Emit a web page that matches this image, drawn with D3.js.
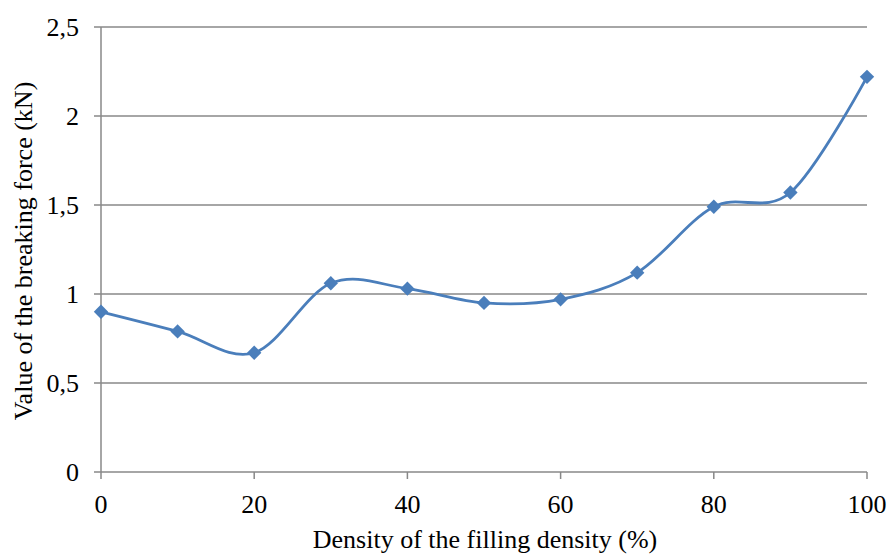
<!DOCTYPE html>
<html><head><meta charset="utf-8">
<script src="https://cdn.jsdelivr.net/npm/d3@7"></script>
<style>body{margin:0;background:#fff}svg{display:block}</style>
</head><body>
<svg id="c" width="889" height="556"></svg>
<script>
const xValues = [0,10,20,30,40,50,60,70,80,90,100];
const forceValues = [0.90,0.79,0.67,1.06,1.03,0.95,0.97,1.12,1.49,1.57,2.22];
const xTicks = [0,20,40,60,80,100];
const yTicks = [0,0.5,1,1.5,2,2.5];
const xTitle = "Density of the filling density (%)";
const yTitle = "Value of the breaking force (kN)";

const svg = d3.select("#c");
const x = d3.scaleLinear().domain([0,100]).range([101,867]);
const y = d3.scaleLinear().domain([0,2.5]).range([472,27]);
const fmt = d => String(d).replace(".", ",");

svg.append("g").selectAll("line").data(yTicks).join("line")
  .attr("x1",94).attr("x2",867).attr("y1",d=>y(d)).attr("y2",d=>y(d))
  .attr("stroke","#888").attr("stroke-width",1.5);
svg.append("line").attr("x1",101).attr("x2",101).attr("y1",27).attr("y2",472)
  .attr("stroke","#888").attr("stroke-width",1.5);
svg.append("g").selectAll("line").data(xTicks).join("line")
  .attr("x1",d=>x(d)).attr("x2",d=>x(d)).attr("y1",472).attr("y2",479)
  .attr("stroke","#888").attr("stroke-width",1.5);

function styleText(sel){ return sel.style("font-family","'Liberation Serif'").style("font-size","26px").attr("fill","#000"); }

styleText(svg.append("g").selectAll("text").data(yTicks).join("text")
  .attr("x",79).attr("y",d=>y(d)).attr("dy","0.33em").attr("text-anchor","end").text(fmt));
styleText(svg.append("g").selectAll("text").data(xTicks).join("text")
  .attr("x",d=>x(d)).attr("y",513).attr("text-anchor","middle").text(d=>d));
styleText(svg.append("text").attr("x",485).attr("y",548).attr("text-anchor","middle").text(xTitle));
styleText(svg.append("text").attr("transform","translate(32,251) rotate(-90)").attr("text-anchor","middle").text(yTitle));

const data = xValues.map((d,i)=>({x:d,y:forceValues[i]}));
const line = d3.line().x(d=>x(d.x)).y(d=>y(d.y)).curve(d3.curveCardinal.tension(0));
svg.append("path").datum(data).attr("d",line).attr("fill","none")
  .attr("stroke","#4a7ebb").attr("stroke-width",2.8);
svg.append("g").selectAll("path").data(data).join("path")
  .attr("d","M0,-7.2L7.2,0L0,7.2L-7.2,0Z")
  .attr("transform",d=>`translate(${x(d.x)},${y(d.y)})`)
  .attr("fill","#4a7ebb");
</script>
</body></html>
